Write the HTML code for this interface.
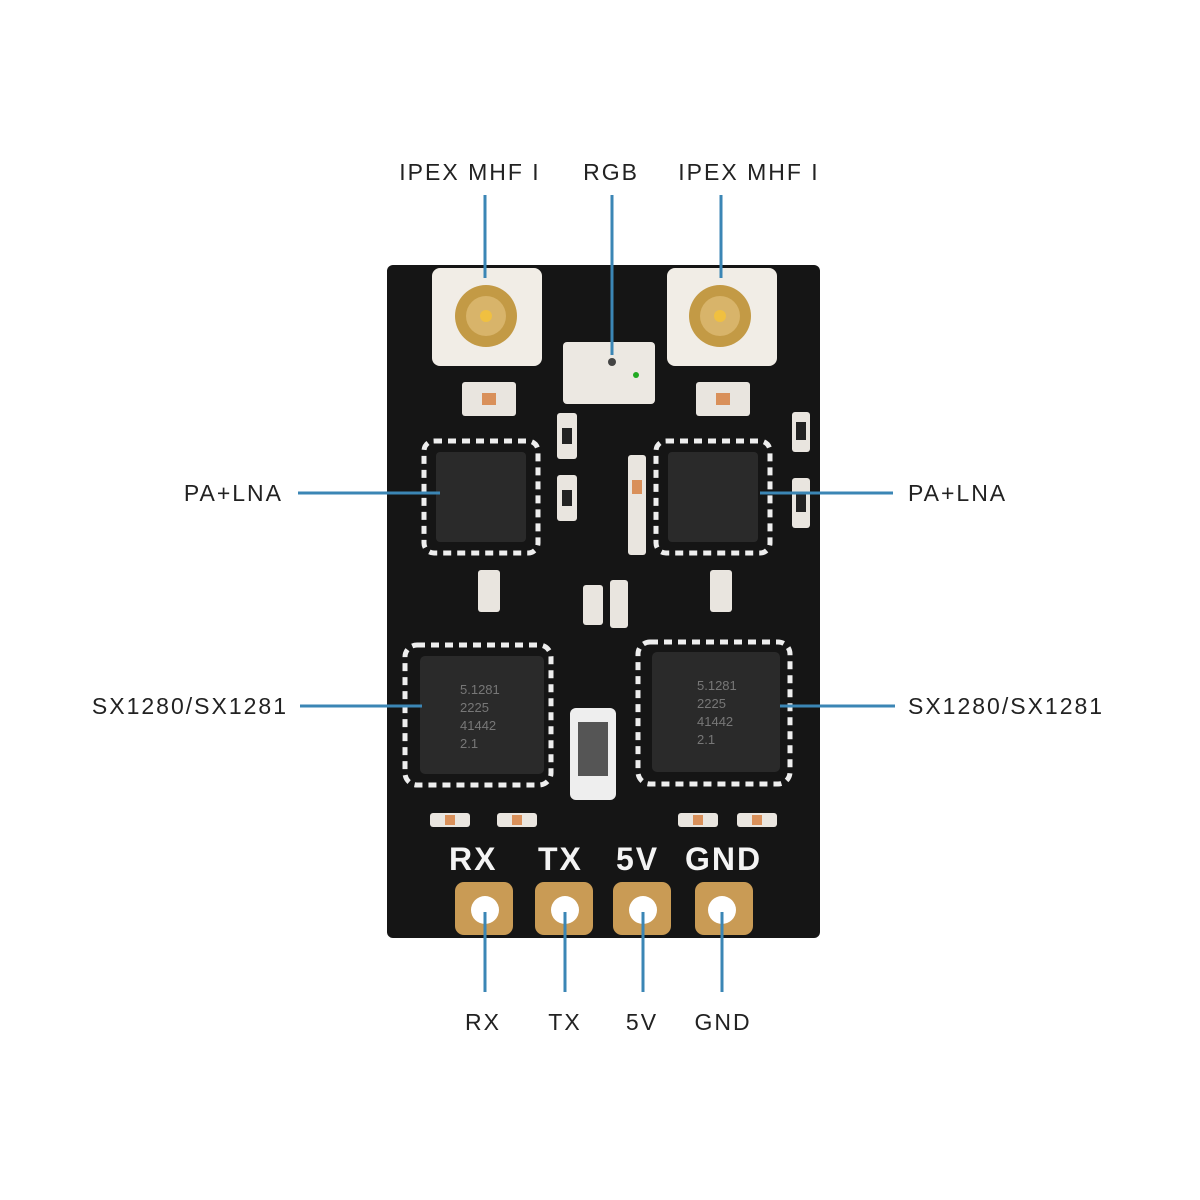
<!DOCTYPE html>
<html><head><style>body{margin:0;background:#fff}svg{display:block}</style></head><body>
<svg width="1200" height="1200" viewBox="0 0 1200 1200" xmlns="http://www.w3.org/2000/svg" font-family="Liberation Sans, sans-serif">
<rect width="1200" height="1200" fill="#fff"/>
<rect x="387" y="265" width="433" height="673" rx="6" fill="#151515"/>
<g fill="#f1ede6"><rect x="432" y="268" width="110" height="98" rx="8"/><rect x="667" y="268" width="110" height="98" rx="8"/></g>
<circle cx="486" cy="316" r="31" fill="#c39a45"/><circle cx="486" cy="316" r="20" fill="#d8b46a"/><circle cx="486" cy="316" r="6" fill="#f0c040"/>
<circle cx="720" cy="316" r="31" fill="#c39a45"/><circle cx="720" cy="316" r="20" fill="#d8b46a"/><circle cx="720" cy="316" r="6" fill="#f0c040"/>
<rect x="563" y="342" width="92" height="62" rx="4" fill="#ece8e2"/><circle cx="612" cy="362" r="4" fill="#444"/><circle cx="636" cy="375" r="3" fill="#2a2"/>
<g fill="#e9e5df"><rect x="462" y="382" width="54" height="34" rx="3"/><rect x="696" y="382" width="54" height="34" rx="3"/>
<rect x="557" y="413" width="20" height="46" rx="3"/><rect x="557" y="475" width="20" height="46" rx="3"/><rect x="628" y="455" width="18" height="100" rx="3"/>
<rect x="792" y="412" width="18" height="40" rx="3"/><rect x="792" y="478" width="18" height="50" rx="3"/>
<rect x="478" y="570" width="22" height="42" rx="3"/><rect x="710" y="570" width="22" height="42" rx="3"/><rect x="583" y="585" width="20" height="40" rx="3"/><rect x="610" y="580" width="18" height="48" rx="3"/>
<rect x="430" y="813" width="40" height="14" rx="3"/><rect x="497" y="813" width="40" height="14" rx="3"/><rect x="678" y="813" width="40" height="14" rx="3"/><rect x="737" y="813" width="40" height="14" rx="3"/></g>
<g fill="#d9905a"><rect x="482" y="393" width="14" height="12"/><rect x="716" y="393" width="14" height="12"/><rect x="632" y="480" width="10" height="14"/><rect x="445" y="815" width="10" height="10"/><rect x="512" y="815" width="10" height="10"/><rect x="693" y="815" width="10" height="10"/><rect x="752" y="815" width="10" height="10"/></g>
<g fill="#222"><rect x="562" y="428" width="10" height="16"/><rect x="562" y="490" width="10" height="16"/><rect x="796" y="422" width="10" height="18"/><rect x="796" y="492" width="10" height="20"/></g>
<g fill="none" stroke="#eee" stroke-width="5" stroke-dasharray="8 6"><rect x="424" y="441" width="114" height="112" rx="10"/><rect x="656" y="441" width="114" height="112" rx="10"/>
<rect x="405" y="645" width="146" height="140" rx="12"/><rect x="638" y="642" width="152" height="142" rx="12"/></g>
<g fill="#2a2a2a"><rect x="436" y="452" width="90" height="90" rx="4"/><rect x="668" y="452" width="90" height="90" rx="4"/>
<rect x="420" y="656" width="124" height="118" rx="5"/><rect x="652" y="652" width="128" height="120" rx="5"/></g>
<g fill="#777" font-size="13"><text x="460" y="694">5.1281</text><text x="460" y="712">2225</text><text x="460" y="730">41442</text><text x="460" y="748">2.1</text>
<text x="697" y="690">5.1281</text><text x="697" y="708">2225</text><text x="697" y="726">41442</text><text x="697" y="744">2.1</text></g>
<rect x="570" y="708" width="46" height="92" rx="6" fill="#eee"/><rect x="578" y="722" width="30" height="54" fill="#555"/>
<g fill="#f4f4f4" font-weight="bold" font-size="32" letter-spacing="2"><text x="449" y="870">RX</text><text x="538" y="870">TX</text><text x="616" y="870">5V</text><text x="685" y="870">GND</text></g>
<g fill="#c99b55"><rect x="455" y="882" width="58" height="53" rx="9"/><rect x="535" y="882" width="58" height="53" rx="9"/><rect x="613" y="882" width="58" height="53" rx="9"/><rect x="695" y="882" width="58" height="53" rx="9"/></g>
<g fill="#fff"><circle cx="485" cy="910" r="14"/><circle cx="565" cy="910" r="14"/><circle cx="643" cy="910" r="14"/><circle cx="722" cy="910" r="14"/></g>
<g stroke="#3b86b5" stroke-width="3">
<line x1="485" y1="195" x2="485" y2="278"/><line x1="612" y1="195" x2="612" y2="355"/><line x1="721" y1="195" x2="721" y2="278"/>
<line x1="298" y1="493" x2="440" y2="493"/><line x1="760" y1="493" x2="893" y2="493"/>
<line x1="300" y1="706" x2="422" y2="706"/><line x1="780" y1="706" x2="895" y2="706"/>
<line x1="485" y1="912" x2="485" y2="992"/><line x1="565" y1="912" x2="565" y2="992"/><line x1="643" y1="912" x2="643" y2="992"/><line x1="722" y1="912" x2="722" y2="992"/></g>
<g fill="#222" font-size="23" letter-spacing="2">
<text x="470" y="180" text-anchor="middle">IPEX MHF I</text><text x="611" y="180" text-anchor="middle">RGB</text><text x="749" y="180" text-anchor="middle">IPEX MHF I</text>
<text x="283" y="501" text-anchor="end">PA+LNA</text><text x="908" y="501">PA+LNA</text>
<text x="288" y="714" text-anchor="end">SX1280/SX1281</text><text x="908" y="714">SX1280/SX1281</text>
<text x="483" y="1030" text-anchor="middle">RX</text><text x="565" y="1030" text-anchor="middle">TX</text><text x="642" y="1030" text-anchor="middle">5V</text><text x="723" y="1030" text-anchor="middle">GND</text></g>
</svg>
</body></html>
